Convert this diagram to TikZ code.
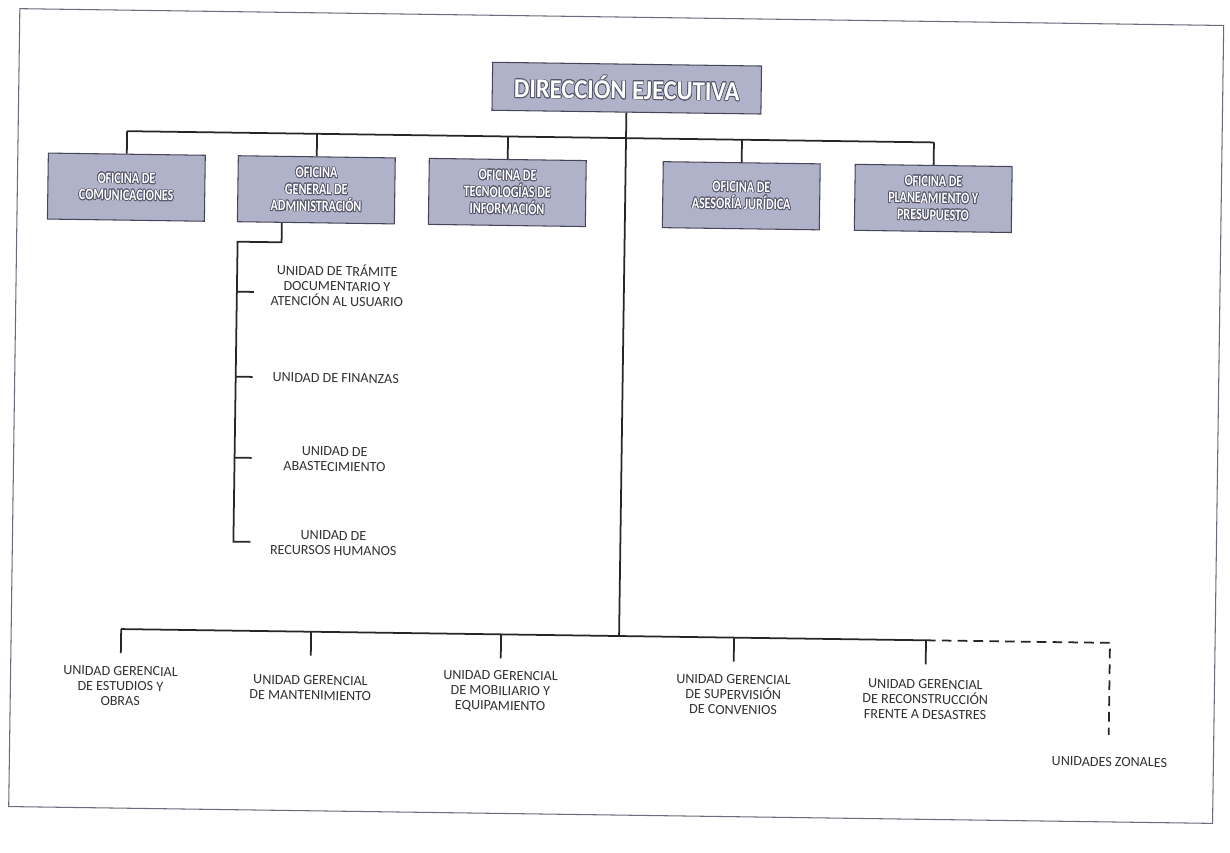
\documentclass[tikz,border=0pt]{standalone}
\usepackage{fontspec}
\setmainfont{Carlito}
\newfontfamily\narrowfont[FakeStretch=0.76]{Carlito}
\newfontfamily\titlefont[FakeStretch=0.9]{Carlito}
\usepackage{contour}
\contourlength{0.4pt}
\usetikzlibrary{calc}
\definecolor{boxfill}{RGB}{176,178,202}
\definecolor{boxedge}{RGB}{70,70,90}
\definecolor{txtedge}{RGB}{85,85,105}
\definecolor{labelgray}{RGB}{50,50,50}
\newcommand{\emb}[1]{\contour{txtedge}{#1}}

\begin{document}
\begin{tikzpicture}[x=0.02cm, y=-0.02cm,
    office/.style ={rectangle, draw=boxedge, fill=boxfill, line width=0.6pt, minimum width=3.14cm, minimum height=1.32cm, inner sep=0pt, align=center, text=white, font=\narrowfont\bfseries\fontsize{9}{9.6}\selectfont},
    headbox/.style ={office, minimum width=5.38cm, minimum height=0.96cm, font=\titlefont\bfseries\fontsize{15.5}{17}\selectfont},
    unitlabel/.style ={align=center, inner sep=0pt, text=labelgray, font=\fontsize{8}{8.6}\selectfont},
    wire/.style ={line width=1pt, black!85}]
   \useasboundingbox (0,0) rectangle (1230,852);

 \begin{scope}[rotate around={-0.8:(615,430)}, transform shape]
   \draw[boxedge!80, line width=0.6pt] (14,17) rectangle (1218,815);

   \node[headbox] (dir) at (622,88) {\emb{DIRECCIÓN EJECUTIVA}};
   \node[office] (com) at (123,194) {\emb{OFICINA DE}\\\emb{COMUNICACIONES}};
   \node[office] (adm) at (313,194) {\emb{OFICINA}\\\emb{GENERAL DE}\\\emb{ADMINISTRACIÓN}};
   \node[office] (tec) at (504,194) {\emb{OFICINA DE}\\\emb{TECNOLOGÍAS DE}\\\emb{INFORMACIÓN}};
   \node[office] (ase) at (738,194) {\emb{OFICINA DE}\\\emb{ASESORÍA JURÍDICA}};
   \node[office] (pla) at (930,194) {\emb{OFICINA DE}\\\emb{PLANEAMIENTO Y}\\\emb{PRESUPUESTO}};

   \node[unitlabel] (tram) at (335,289) {UNIDAD DE TRÁMITE\\DOCUMENTARIO Y\\ATENCIÓN AL USUARIO};
   \node[unitlabel] (fin)  at (335,382) {UNIDAD DE FINANZAS};
   \node[unitlabel] (abas) at (335,463) {UNIDAD DE\\ABASTECIMIENTO};
   \node[unitlabel] (rrhh) at (335,547) {UNIDAD DE\\RECURSOS HUMANOS};

   \node[unitlabel] (est) at (124,693) {UNIDAD GERENCIAL\\DE ESTUDIOS Y\\OBRAS};
   \node[unitlabel] (man) at (314,692) {UNIDAD GERENCIAL\\DE MANTENIMIENTO};
   \node[unitlabel] (mob) at (504,693) {UNIDAD GERENCIAL\\DE MOBILIARIO Y\\EQUIPAMIENTO};
   \node[unitlabel] (sup) at (737,693) {UNIDAD GERENCIAL\\DE SUPERVISIÓN\\DE CONVENIOS};
   \node[unitlabel] (rec) at (929,695) {UNIDAD GERENCIAL\\DE RECONSTRUCCIÓN\\FRENTE A DESASTRES};
   \node[unitlabel] (zon) at (1114,755) {UNIDADES ZONALES};

   \coordinate (topbar) at (622,138);
   \coordinate (hub) at (622,636);
   \coordinate (brk) at (235,247);
   \coordinate (zoncorner) at (1113,636);
   \coordinate (zonend) at (1113,728);

   % top level
   \draw[wire] (dir) -- (hub);
   \draw[wire] (com.north |- topbar) -- (pla.north |- topbar);
   \draw[wire] (com) -- (com |- topbar);
   \draw[wire] (adm) -- (adm |- topbar);
   \draw[wire] (tec) -- (tec |- topbar);
   \draw[wire] (ase) -- (ase |- topbar);
   \draw[wire] (pla) -- (pla |- topbar);

   % administracion
   \draw[wire] ($(adm.south)+(-34,0)$) |- (brk) -- (brk |- rrhh) -- ++(17,0);
   \draw[wire] (brk |- tram) ++(0,8) -- ++(17,0);
   \draw[wire] (brk |- fin) -- ++(17,0);
   \draw[wire] (brk |- abas) -- ++(17,0);

   % unidades gerenciales
   \draw[wire] (est.north |- hub) -- (rec.north |- hub);
   \draw[wire] (est.north |- hub) -- ++(0,24);
   \draw[wire] (man.north |- hub) -- ++(0,24);
   \draw[wire] (mob.north |- hub) -- ++(0,24);
   \draw[wire] (sup.north |- hub) -- ++(0,24);
   \draw[wire] (rec.north |- hub) -- ++(0,24);
   \draw[wire, dash pattern=on 5.5pt off 3.5pt] (rec.north |- hub) -- (zoncorner) -- (zonend);
 \end{scope}
 \end{tikzpicture}
\end{document}
